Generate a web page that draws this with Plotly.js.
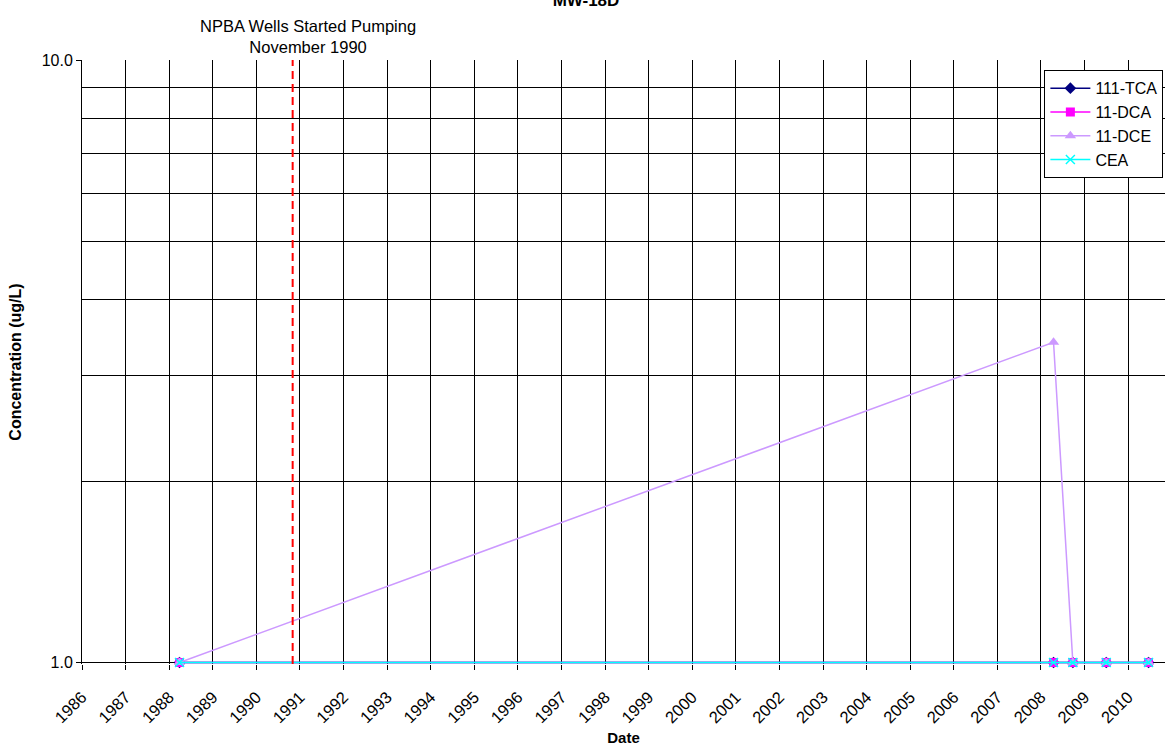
<!DOCTYPE html>
<html>
<head>
<meta charset="utf-8">
<script src="https://cdn.plot.ly/plotly-3.0.1.min.js"></script>
<style>html,body{margin:0;padding:0;background:#fff;}#chart{width:1165px;height:746px;}</style>
</head>
<body>
<div id="chart"></div>
<script>
// ---- data ----
const sampleDates = ['1988-03-28', '2008-04-15', '2008-09-24', '2009-07-01', '2010-06-20'];
const tca111 = [1.0, 1.0, 1.0, 1.0, 1.0];
const dca11  = [1.0, 1.0, 1.0, 1.0, 1.0];
const dce11  = [1.0, 3.4, 1.0, 1.0, 1.0];
const cea    = [1.0, 1.0, 1.0, 1.0, 1.0];
const seriesNames = ['111-TCA', '11-DCA', '11-DCE', 'CEA'];
const pumpingDate = '1990-11-01';
const pumpingLabel = 'NPBA Wells Started Pumping<br>November 1990';
const yTickVals = [1, 10];
const yTickText = ['1.0', '10.0'];
const yMinorVals = [2, 3, 4, 5, 6, 7, 8, 9];
const xTickVals = [];
for (let y = 1986; y <= 2011; y++) xTickVals.push(y + '-01-01');
const xTickText = xTickVals.map(v => v.slice(0, 4));

const font = 'Liberation Sans, Arial, sans-serif';

function tr(name, ys, color, symbol, size) {
  return {
    x: sampleDates, y: ys, name: name, type: 'scatter', mode: 'lines+markers',
    legendgroup: name, cliponaxis: false,
    line: {color: color, width: 1.5},
    marker: {color: color, symbol: symbol, size: size, line: {color: color, width: symbol === 'x-thin' ? 1.5 : 0}},
  };
}

const data = [
  tr(seriesNames[0], tca111, '#000080', 'diamond', 9),
  tr(seriesNames[1], dca11, '#FF00FF', 'square', 9),
  tr(seriesNames[2], dce11, '#CC99FF', 'triangle-up', 10),
  tr(seriesNames[3], cea, '#00FFFF', 'x-thin', 9),
];

const layout = {
  width: 1165, height: 746,
  margin: {l: 82, r: 0, t: 60, b: 82, pad: 0},
  paper_bgcolor: '#fff', plot_bgcolor: '#fff',
  font: {family: font, size: 16, color: '#000'},
  showlegend: true,
  title: {text: '<b>MW-18D</b>', x: 0.503, xanchor: 'center', xref: 'container', y: 1.0, yref: 'container', yanchor: 'middle', font: {family: font, size: 17, color: '#000'}},
  xaxis: {
    type: 'date',
    range: ['1986-01-01', '2010-11-05'],
    tickmode: 'array', tickvals: xTickVals, ticktext: xTickText,
    tickangle: -45, ticks: 'outside', ticklen: 5, tickcolor: '#000',
    ticklabelstandoff: 11,
    showgrid: true, gridcolor: '#000', gridwidth: 1,
    showline: false,
    zeroline: false, automargin: false, layer: 'below traces',
    tickfont: {family: font, size: 16.5},
    title: {text: '<b>Date</b>', font: {family: font, size: 15}, standoff: 11},
  },
  yaxis: {
    type: 'log', range: [-0.0025, 1],
    tickmode: 'array', tickvals: yTickVals, ticktext: yTickText,
    ticks: 'outside', ticklen: 5, tickcolor: '#000',
    showgrid: true, gridcolor: '#000', gridwidth: 1,
    minor: {tickmode: 'array', tickvals: yMinorVals, showgrid: true, gridcolor: '#000', gridwidth: 1, ticks: ''},
    showline: true, linecolor: '#000', linewidth: 1,
    zeroline: false, automargin: false, layer: 'below traces',
    tickfont: {family: font, size: 16},
    title: {text: '<b>Concentration (ug/L)</b>', font: {family: font, size: 16}, standoff: 16},
  },
  legend: {
    x: 0.9985, xanchor: 'right', y: 0.983, yanchor: 'top',
    bgcolor: '#fff', bordercolor: '#000', borderwidth: 1,
    font: {family: font, size: 16}, itemwidth: 40, tracegroupgap: 0,
  },
  shapes: [{
    type: 'line', xref: 'x', yref: 'paper', x0: pumpingDate, x1: pumpingDate, y0: 0, y1: 1,
    line: {color: '#FF0000', width: 2, dash: '8px,5px'}
  }],
  annotations: [{
    text: pumpingLabel, xref: 'x', yref: 'paper', x: pumpingDate, y: 1.003,
    xshift: 15,
    xanchor: 'center', yanchor: 'bottom', showarrow: false,
    font: {family: font, size: 16.5, color: '#000'}, align: 'center'
  }],
};

Plotly.newPlot('chart', data, layout, {displayModeBar: false, staticPlot: true});
</script>
</body>
</html>
